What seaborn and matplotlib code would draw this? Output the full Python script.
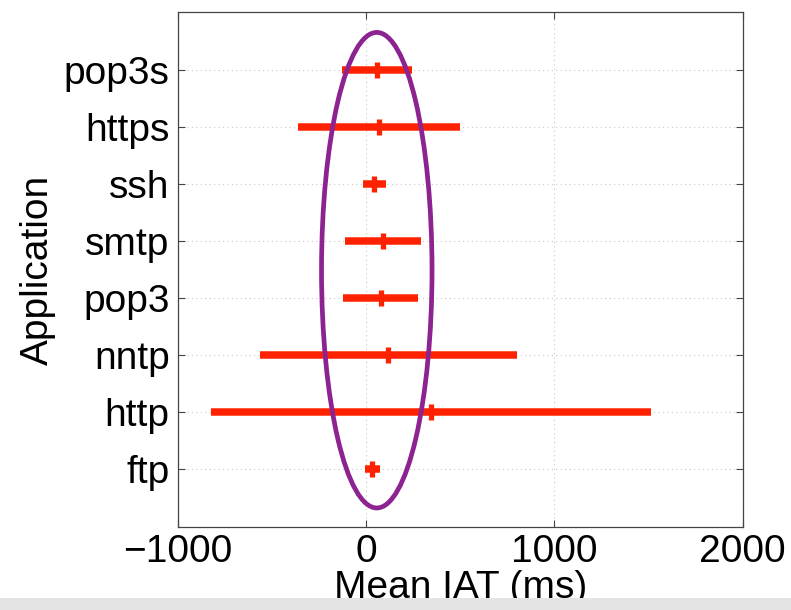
import numpy as np
import pandas as pd
import matplotlib
matplotlib.use("Agg")
import matplotlib.pyplot as plt
from matplotlib.patches import Ellipse, Rectangle
import seaborn as sns

# Mean inter-arrival time per application: lower bound, mean, upper bound (ms)
applications = ["pop3s", "https", "ssh", "smtp", "pop3", "nntp", "http", "ftp"]
iat_low = [-127, -360, -16, -111, -122, -566, -825, -5]
iat_mean = [58, 69, 42, 90, 79, 116, 342, 32]
iat_high = [243, 497, 106, 291, 275, 799, 1510, 74]
x_ticks = [-1000, 0, 1000, 2000]

# Highlighted region around zero (centre, width in ms; vertical span in category units)
ring_x, ring_w = 56, 587
ring_y, ring_h = 3.51, 8.35

rows = []
for app, lo, mu, hi in zip(applications, iat_low, iat_mean, iat_high):
    for v in (lo, mu, hi):
        rows.append({"Application": app, "IAT": v})
df = pd.DataFrame(rows)

sns.set_theme(style="white")
plt.rcParams["font.family"] = ["Liberation Sans", "DejaVu Sans"]

fig = plt.figure(figsize=(7.91, 6.10), dpi=100)
ax = fig.add_axes([0.225, 0.136, 0.714, 0.844])

red = "#ff2200"
sns.pointplot(
    data=df, x="IAT", y="Application", order=applications,
    estimator=np.median,
    errorbar=lambda v: (v.min(), v.max()),
    color=red, linestyle="none", marker="|",
    markersize=11, markeredgewidth=3.8,
    err_kws={"linewidth": 5.4, "solid_capstyle": "butt"},
    ax=ax, zorder=3,
)

ax.add_patch(Ellipse((ring_x, ring_y), ring_w, ring_h, fill=False,
                     edgecolor="#8c2391", linewidth=3.4, zorder=4))

ax.set_xlim(-1000, 2000)
ax.set_ylim(8.02, -1.02)
ax.set_xticks(x_ticks)
ax.set_xticklabels(["\u22121000", "0", "1000", "2000"])
ax.grid(True, which="major", axis="both", linestyle=(0, (1, 3)),
        color="#c8c8c8", linewidth=0.8)
ax.set_axisbelow(True)

for s in ax.spines.values():
    s.set_visible(True)
    s.set_color("#444444")
    s.set_linewidth(0.9)

ax.tick_params(axis="both", direction="in", length=5, width=0.8,
               colors="#444444", labelcolor="black", labelsize=28,
               top=True, right=True, bottom=True, left=True)
ax.tick_params(axis="y", pad=6)
ax.tick_params(axis="x", pad=5)

ax.set_xlabel("Mean IAT (ms)", fontsize=28, labelpad=0, color="black")
ax.set_ylabel("Application", fontsize=28, labelpad=6, color="black")

# light strip along the bottom edge
fig.patches.append(Rectangle((0, 0), 1, 12 / 610, transform=fig.transFigure,
                             facecolor="#e4e4e4", edgecolor="none", zorder=10))

fig.savefig("out.png", dpi=100)
